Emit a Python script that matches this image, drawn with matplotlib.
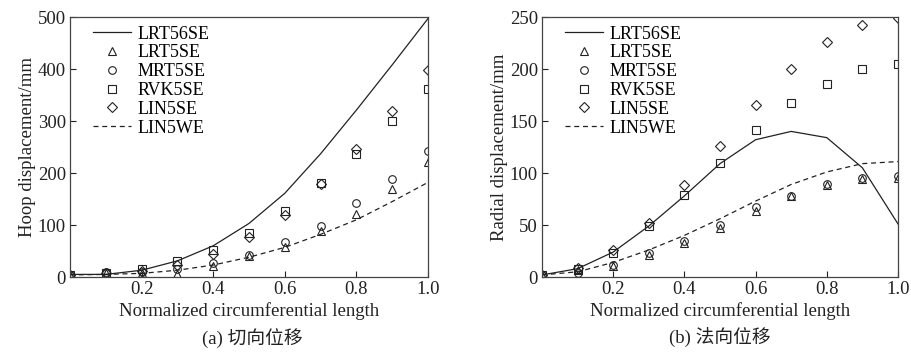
import numpy as np
import matplotlib
matplotlib.use('Agg')
import matplotlib.pyplot as plt

plt.rcParams['font.family'] = ['Liberation Serif', 'Noto Sans CJK SC']
plt.rcParams['font.size'] = 13.5

x = [0, 0.1, 0.2, 0.3, 0.4, 0.5, 0.6, 0.7, 0.8, 0.9, 1.0]

# (a) hoop displacement
hoop_lrt56se = [5, 5, 13, 31, 60, 103, 161, 237, 321, 408, 497]
hoop_lrt5se = [4, 8, 8, 6, 22, 40, 58, 88, 122, 170, 222]
hoop_mrt5se = [4, 10, 10, 15, 26, 42, 67, 99, 142, 188, 242]
hoop_rvk5se = [4, 8, 16, 30, 52, 84, 127, 180, 236, 300, 362]
hoop_lin5se = [4, 8, 12, 24, 44, 76, 120, 178, 246, 320, 398]
hoop_lin5we = [4, 5, 7, 13, 23, 38, 57, 82, 110, 145, 182]

# (b) radial displacement
rad_lrt56se = [2, 8, 24, 49, 78, 109, 132, 140, 134, 105, 51]
rad_lrt5se = [2, 7, 11, 21, 33, 47, 63, 78, 88, 94, 95]
rad_mrt5se = [2, 4, 12, 23, 35, 50, 67, 78, 89, 95, 97]
rad_rvk5se = [2, 8, 23, 49, 79, 110, 141, 167, 186, 200, 205]
rad_lin5se = [2, 9, 26, 52, 88, 126, 165, 200, 226, 242, 249]
rad_lin5we = [2, 5, 14, 26, 40, 56, 73, 89, 101, 109, 111]

c = '#222222'
mk = dict(linestyle='none', markerfacecolor='none', markeredgecolor=c,
          markersize=5.5, markeredgewidth=0.8)

fig = plt.figure(figsize=(9.12, 3.54), dpi=100)
ax1 = fig.add_axes([70/912, 1-277/354, 358/912, 260/354])
ax2 = fig.add_axes([542/912, 1-277/354, 356/912, 260/354])


def draw(ax, d, ylim, yticks, ylabel):
    ax.plot(x, d[0], '-', color=c, lw=0.9, label='LRT56SE')
    ax.plot(x, d[1], marker='^', label='LRT5SE', **mk)
    ax.plot(x, d[2], marker='o', label='MRT5SE', **mk)
    ax.plot(x, d[3], marker='s', label='RVK5SE', **mk)
    ax.plot(x, d[4], marker='D', label='LIN5SE', **dict(mk, markersize=5))
    ax.plot(x, d[5], '--', color=c, lw=0.9, dashes=(4, 3), label='LIN5WE')
    ax.set_xlim(0, 1.0)
    ax.set_ylim(*ylim)
    ax.set_xticks([0.2, 0.4, 0.6, 0.8, 1.0])
    ax.set_xticklabels(['0.2', '0.4', '0.6', '0.8', '1.0'])
    ax.set_yticks(yticks)
    ax.tick_params(direction='in', length=4, width=0.8, colors=c, labelcolor=c, pad=3)
    for s in ax.spines.values():
        s.set_linewidth(0.9)
        s.set_color('#444444')
    ax.set_xlabel('Normalized circumferential length', labelpad=3, color=c)
    ax.set_ylabel(ylabel, labelpad=1, color=c)
    ax.legend(loc='upper left', frameon=False, handlelength=2.1,
              labelspacing=0.1, borderaxespad=0.0, fontsize=13,
              handletextpad=0.35, bbox_to_anchor=(0.045, 0.995))


draw(ax1, [hoop_lrt56se, hoop_lrt5se, hoop_mrt5se, hoop_rvk5se, hoop_lin5se, hoop_lin5we],
     (0, 500), [0, 100, 200, 300, 400, 500], 'Hoop displacement/mm')
draw(ax2, [rad_lrt56se, rad_lrt5se, rad_mrt5se, rad_rvk5se, rad_lin5se, rad_lin5we],
     (0, 250), [0, 50, 100, 150, 200, 250], 'Radial displacement/mm')

fig.text(252/912, 1-338/354, '(a) 切向位移', ha='center', va='center', fontsize=13.5, color=c)
fig.text(720/912, 1-338/354, '(b) 法向位移', ha='center', va='center', fontsize=13.5, color=c)

fig.savefig('out.png', dpi=100)
